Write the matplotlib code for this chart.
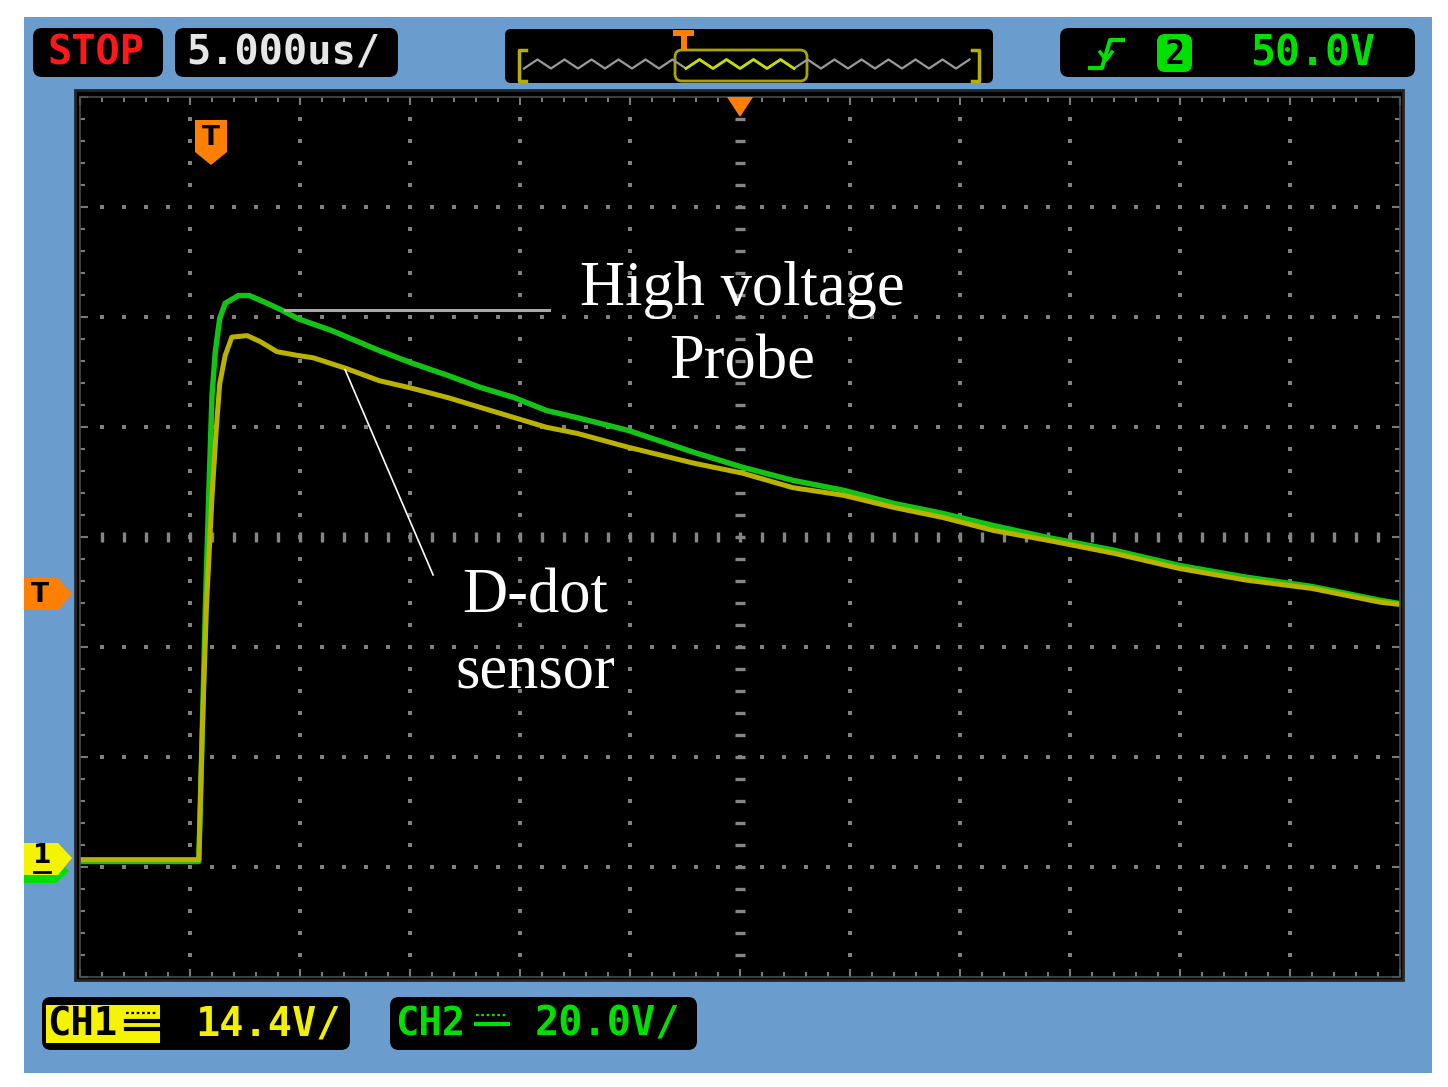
import matplotlib.pyplot as plt
import numpy as np
from matplotlib.patches import FancyBboxPatch, Rectangle, Polygon

# scope settings
time_per_div = 5.0          # us/div
ch1_volts_per_div = 14.4    # D-dot sensor (yellow)
ch2_volts_per_div = 20.0    # high voltage probe (green)
ground_div = -2.94          # ground level, divisions from centre

# CH2 - high voltage probe, time (us) and volts
ch2_t = [0.0, 5.4, 5.45, 5.55, 5.7, 5.85, 6.0, 6.15, 6.35, 6.6, 7.2, 7.7, 8.5, 9.2,
         9.9, 11.4, 13.6, 15.1, 16.7, 18.2, 19.7, 21.2, 22.6, 24.9, 27.9, 30.1,
         32.4, 34.7, 37.0, 39.2, 41.5, 44.0, 47.0, 50.0, 53.0, 56.0, 59.1, 60.0]
ch2_v = [-0.2, -0.2, 7.3, 22.5, 46.4, 66.2, 84.5, 92.5, 98.5, 101.3, 102.7, 102.7,
         101.3, 100.0, 98.5, 96.4, 92.7, 90.4, 88.2, 86.0, 84.2, 81.8, 80.5, 78.2,
         74.2, 71.5, 69.1, 67.3, 64.9, 63.1, 60.9, 58.7, 56.4, 53.6, 51.5, 49.8,
         47.3, 46.7]

# CH1 - D-dot sensor, time (us) and volts
ch1_t = [0.0, 5.4, 5.45, 5.55, 5.75, 6.0, 6.2, 6.35, 6.6, 6.9, 7.6, 8.2, 8.95, 9.9,
         10.6, 12.1, 13.6, 15.1, 16.7, 18.2, 19.7, 21.2, 22.6, 24.9, 27.9, 30.1,
         32.4, 34.7, 37.0, 39.2, 41.5, 44.0, 47.0, 50.0, 53.0, 56.0, 59.1, 60.0]
ch1_v = [0.1, 0.1, 5.2, 16.2, 33.4, 47.6, 56.7, 62.4, 66.1, 68.5, 68.7, 67.9, 66.6,
         66.1, 65.8, 64.4, 62.8, 61.8, 60.6, 59.3, 58.0, 56.7, 55.9, 54.1, 52.0,
         50.7, 48.8, 47.8, 46.2, 44.9, 43.2, 41.9, 40.2, 38.2, 36.7, 35.6, 33.8, 33.5]

W, H = 1448, 1087
BLUE = '#6a9ccd'
ORANGE = '#ff8000'
MONO = 'DejaVu Sans Mono'

fig = plt.figure(figsize=(W / 100, H / 100), dpi=100)
fig.patch.set_facecolor('white')


def full_axes(z):
    a = fig.add_axes([0, 0, 1, 1], zorder=z)
    a.set_xlim(0, W)
    a.set_ylim(H, 0)
    a.axis('off')
    a.patch.set_alpha(0)
    return a


def box(a, x0, y0, x1, y1, fc='black', ec='none', r=9, lw=1.5):
    a.add_patch(FancyBboxPatch((x0, y0), x1 - x0, y1 - y0,
                               boxstyle=f"round,pad=0,rounding_size={r}",
                               fc=fc, ec=ec, lw=lw))


# background: blue panel and black screen
bg = full_axes(0)
bg.add_patch(Rectangle((24, 17), 1408, 1056, fc=BLUE, ec='none'))
bg.add_patch(Rectangle((75, 90), 1328, 890, fc='black', ec='#262626', lw=2))

# screen
ax = fig.add_axes([80 / W, 1 - 977 / H, 1320 / W, 880 / H], zorder=2)
ax.set_facecolor('black')
ax.set_xlim(0, 12 * time_per_div)
ax.set_ylim(-4, 4)
for s in ax.spines.values():
    s.set_color('#4a4a4a')
    s.set_linewidth(1.2)
ax.set_xticks(np.arange(0, 60.1, 5))
ax.set_xticks(np.arange(0, 60.1, 1), minor=True)
ax.set_yticks(np.arange(-4, 4.1, 1))
ax.set_yticks(np.arange(-4, 4.01, 0.2), minor=True)
ax.tick_params(which='both', direction='in', top=True, right=True,
               labelbottom=False, labelleft=False, color='#7a7a7a', width=1.5)
ax.tick_params(which='major', length=6)
ax.tick_params(which='minor', length=3.5)

# dotted graticule
minor_x = np.arange(1, 60, 1.0)
minor_y = np.arange(-3.8, 3.81, 0.2)
for xv in np.arange(5, 60, 5):
    if xv == 30:
        continue
    ax.plot(np.full_like(minor_y, xv), minor_y, ls='none', marker='s', ms=2.3,
            mew=0, color='#808080')
for yv in [-3, -2, -1, 1, 2, 3]:
    ax.plot(minor_x, np.full_like(minor_x, yv), ls='none', marker='s', ms=2.3,
            mew=0, color='#808080')
ax.plot(np.full_like(minor_y, 30), minor_y, ls='none', marker='_', ms=7.5, mew=2.4,
        color='#858585')
ax.plot(minor_x, np.zeros_like(minor_x), ls='none', marker='|', ms=7, mew=2.4,
        color='#858585')

# traces
ch2_div = np.array(ch2_v) / ch2_volts_per_div + ground_div
ch1_div = np.array(ch1_v) / ch1_volts_per_div + ground_div
ax.plot(ch2_t, ch2_div, color='#14c414', lw=3.9, solid_joinstyle='round')
ax.plot(ch1_t, ch1_div, color='#b9b300', lw=3.6, solid_joinstyle='round')

# annotations
ax.plot([9.3, 21.3], [2.06, 2.06], color='#a8a8a8', lw=2.2)
ax.plot([12.05, 16.05], [1.52, -0.345], color='white', lw=1.2)
serif = dict(family='Liberation Serif', fontsize=45, color='white',
             ha='center', va='baseline')
ax.text(30.1, 2.11, 'High voltage', **serif)
ax.text(30.1, 1.445, 'Probe', **serif)
ax.text(20.7, -0.69, 'D-dot', **serif)
ax.text(20.7, -1.37, 'sensor', **serif)

# overlays: status bars and markers
ui = full_axes(5)

box(ui, 33, 28, 163, 77)
ui.text(47, 53, 'STOP', color='#ff1818', fontsize=29, family=MONO,
        fontweight='bold', va='center')
box(ui, 175, 28, 398, 77)
ui.text(186, 53, '5.000us/', color='#e6e6e6', fontsize=29, family=MONO,
        fontweight='bold', va='center')

# memory overview
box(ui, 505, 29, 993, 83, r=6)
zx = np.arange(524, 974, 13.5)
zy = 64 + 4.5 * np.where(np.arange(len(zx)) % 2 == 0, 1, -1)
inside = (zx >= 676) & (zx <= 806)
ui.plot(zx, zy, color='#9a9a9a', lw=1.6)
ui.plot(zx[inside], zy[inside], color='#c8dc00', lw=2)
box(ui, 675, 50, 807, 81, fc='none', ec='#a8a400', r=7, lw=2)
for bx, d in [(519, 1), (979, -1)]:
    ui.plot([bx + 7 * d, bx, bx, bx + 7 * d], [50, 50, 81, 81], color='#b4b000', lw=2.5)
ui.add_patch(Rectangle((673, 30), 21, 6, fc=ORANGE, ec='none'))
ui.add_patch(Rectangle((680.5, 30), 6, 20, fc=ORANGE, ec='none'))

# trigger info
box(ui, 1060, 28, 1415, 77)
ui.plot([1090, 1102, 1110, 1123], [68, 68, 40, 40], color='#00e000', lw=3)
ui.plot([1100, 1106, 1112], [52, 60, 52], color='#00e000', lw=2.5)
box(ui, 1157, 34, 1192, 72, fc='#00e000', r=8)
ui.text(1174.5, 54, '2', color='black', fontsize=24, family=MONO, fontweight='bold',
        ha='center', va='center')
ui.text(1250, 53, '50.0V', color='#00e000', fontsize=30, family=MONO,
        fontweight='bold', va='center')

# channel scales
box(ui, 42, 997, 350, 1050)
ui.add_patch(Rectangle((46, 1005), 114, 38, fc='#f4f400', ec='none'))
ui.text(47, 1025, 'CH1', color='black', fontsize=28, family=MONO, fontweight='bold',
        va='center')
ui.plot([126, 158], [1013, 1013], color='black', lw=1.6, ls=(0, (1.2, 1.2)))
ui.plot([126, 158], [1021, 1021], color='black', lw=3)
ui.plot([126, 158], [1029, 1029], color='black', lw=3)
ui.text(195, 1024, '14.4V/', color='#f0f000', fontsize=29, family=MONO,
        fontweight='bold', va='center')

box(ui, 390, 997, 697, 1050)
ui.text(395, 1024, 'CH2', color='#00e000', fontsize=28, family=MONO,
        fontweight='bold', va='center')
ui.plot([476, 508], [1015, 1015], color='#00e000', lw=1.6, ls=(0, (1.2, 1.2)))
ui.plot([476, 508], [1024, 1024], color='#00e000', lw=3)
ui.text(535, 1024, '20.0V/', color='#00e000', fontsize=29, family=MONO,
        fontweight='bold', va='center')

# side markers
ui.add_patch(Polygon([(24, 578), (58, 578), (72, 594), (58, 610), (24, 610)],
                     closed=True, fc=ORANGE, ec='none'))
ui.text(40, 595, 'T', color='black', fontsize=19, fontweight='bold',
        ha='center', va='center')
ui.add_patch(Polygon([(24, 860), (56, 860), (69, 871), (56, 883), (24, 883)],
                     closed=True, fc='#00dd00', ec='none'))
ui.add_patch(Polygon([(24, 843), (58, 843), (72, 858), (58, 875), (24, 875)],
                     closed=True, fc='#f4f400', ec='none'))
ui.text(42, 856, '1', color='black', fontsize=19, fontweight='bold',
        ha='center', va='center')
ui.plot([34, 50], [872, 872], color='black', lw=2)

ui.add_patch(Polygon([(195, 120), (227, 120), (227, 152), (211, 165), (195, 152)],
                     closed=True, fc=ORANGE, ec='none', joinstyle='round'))
ui.text(211, 138, 'T', color='black', fontsize=19, fontweight='bold',
        ha='center', va='center')
ui.add_patch(Polygon([(727, 97), (753, 97), (740, 117)], closed=True, fc=ORANGE,
                     ec='none'))

fig.savefig('out.png', dpi=100, facecolor='white')
